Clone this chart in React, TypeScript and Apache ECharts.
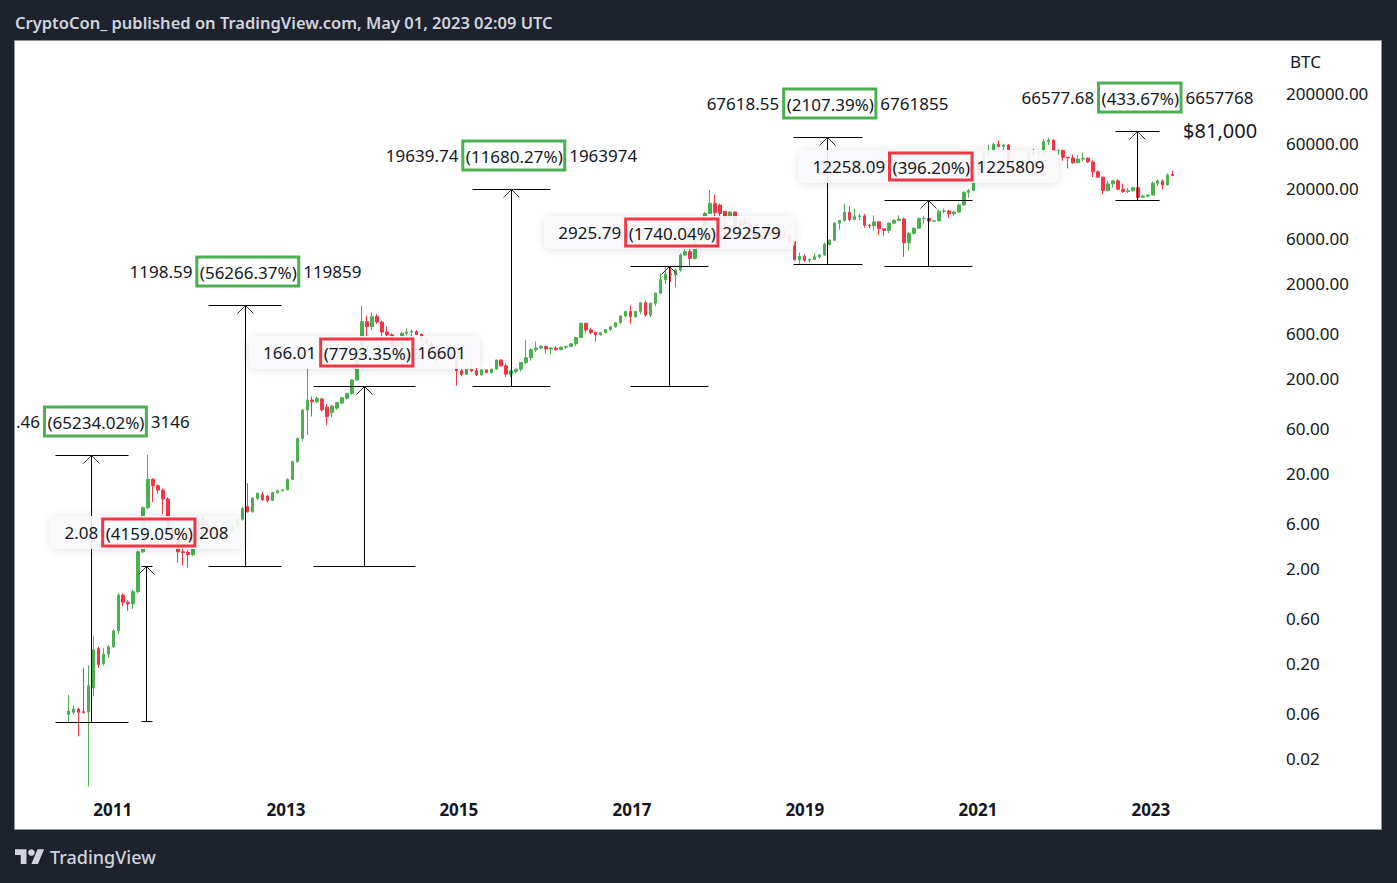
import React, { useEffect, useRef } from 'react';
import * as echarts from 'echarts';

const FONT = '"Noto Sans", "Open Sans", "DejaVu Sans", sans-serif';
const INK = '#131722';
const UP = '#4caf50';
const DOWN = '#f23645';
const FRAME = '#1e222d';

// 3-week bars, [open, close, low, high], first bar starts 2010-06-28
const firstBarDate = '2010-06-28';
const barDays = 21;

const bars2010 = [
  [0.058, 0.063, 0.049, 0.093], [0.061, 0.066, 0.058, 0.072], [0.066, 0.061, 0.034, 0.068],
  [0.062, 0.0605, 0.059, 0.18], [0.0615, 0.116, 0.0101, 0.19], [0.11, 0.277, 0.09, 0.39],
  [0.288, 0.195, 0.18, 0.3], [0.2, 0.25, 0.19, 0.29], [0.25, 0.3, 0.23, 0.31],
];
const bars2011 = [
  [0.3, 0.44, 0.29, 0.46], [0.44, 1.05, 0.41, 1.1], [1.05, 0.88, 0.8, 1.1], [0.88, 0.85, 0.72, 0.92],
  [0.85, 1.14, 0.75, 1.2], [1.14, 3.0, 1.1, 3.1], [3.0, 8.75, 2.9, 9.0], [8.75, 17.4, 8.4, 31.5],
  [17.4, 14.9, 10.0, 17.9], [14.9, 13.4, 12.3, 15.5], [13.4, 10.8, 7.5, 14.0], [10.8, 4.8, 4.5, 11.3],
  [4.8, 4.0, 3.6, 6.0], [4.0, 3.0, 2.3, 4.3], [3.0, 2.95, 2.15, 3.6], [2.95, 2.8, 2.05, 3.1],
  [2.8, 4.0, 2.7, 4.2], [4.0, 6.7, 3.9, 7.2],
];
const bars2012 = [
  [6.7, 5.7, 5.3, 7.0], [5.7, 4.9, 4.3, 6.0], [4.9, 5.3, 4.7, 5.4], [5.3, 4.9, 4.6, 5.4],
  [4.9, 5.0, 4.8, 5.2], [5.0, 5.1, 4.9, 5.2], [5.1, 5.6, 5.0, 5.7], [5.6, 6.6, 5.5, 6.8],
  [6.6, 8.6, 6.4, 8.9], [9.0, 7.9, 7.8, 15.8], [7.9, 11.0, 7.8, 11.3], [11.0, 12.4, 10.5, 12.6],
  [12.0, 10.6, 10.3, 12.8], [11.6, 10.4, 9.9, 11.9], [10.4, 12.6, 10.3, 12.9], [12.6, 13.2, 12.3, 13.6],
  [13.2, 13.5, 13.0, 13.8],
];
const bars2013 = [
  [13.5, 17.4, 13.3, 17.8], [17.4, 26.7, 17.0, 27.5], [26.7, 47.0, 26.0, 48.0], [47.0, 93.6, 44.0, 95.0],
  [93.6, 119, 51, 260], [119, 114, 80, 130], [114, 124, 110, 130], [122, 94, 90, 126],
  [100, 80, 65, 108], [88, 103, 78, 106], [98, 112, 94, 114], [111, 126, 108, 129],
  [124, 140, 121, 142], [140, 194, 135, 198], [194, 328, 190, 340], [328, 798, 320, 1175],
  [798, 706, 480, 920], [706, 900, 650, 1000],
];
const bars2014 = [
  [900, 790, 760, 960], [790, 620, 480, 820], [620, 580, 550, 710], [580, 450, 420, 600],
  [450, 440, 340, 540], [440, 602, 430, 620], [602, 620, 570, 680], [620, 627, 560, 660],
  [627, 585, 575, 650], [585, 520, 500, 600], [520, 480, 460, 530], [480, 400, 370, 490],
  [400, 380, 280, 410], [380, 340, 320, 390], [340, 370, 330, 460], [370, 320, 310, 390],
  [320, 242, 168.2, 335],
];
const bars2015 = [
  [242, 222, 212, 255], [222, 252, 218, 262], [252, 242, 236, 300], [242, 219, 214, 262],
  [219, 248, 216, 252], [248, 233, 228, 250], [233, 252, 225, 256], [252, 315, 248, 318],
  [315, 273, 268, 318], [273, 223, 207, 290], [223, 242, 208, 245], [238, 252, 228, 256],
  [252, 296, 238, 300], [296, 333, 285, 514], [333, 404, 310, 420], [404, 421, 380, 493],
  [421, 438, 410, 450],
];
const bars2016 = [
  [438, 411, 370, 445], [411, 421, 360, 430], [421, 404, 395, 440], [404, 430, 400, 435],
  [430, 438, 410, 445], [438, 467, 430, 470], [467, 543, 440, 550], [543, 767, 530, 780],
  [767, 652, 600, 770], [652, 612, 590, 690], [612, 579, 493, 630], [579, 612, 570, 620],
  [612, 660, 600, 670], [660, 706, 640, 715], [706, 778, 690, 790], [778, 917, 760, 925],
  [917, 1020, 890, 1030], [1020, 900, 767, 1180],
];
const bars2017 = [
  [900, 1025, 880, 1040], [1025, 1265, 960, 1280], [1265, 938, 900, 1330], [938, 1250, 890, 1260],
  [1250, 1590, 1160, 1620], [1590, 2200, 1550, 2560], [2200, 2540, 2000, 2980], [2540, 2480, 2100, 2950],
  [2480, 2790, 1840, 2900], [2790, 4020, 2680, 4200], [4020, 4360, 3900, 4700], [4360, 3700, 2985, 4950],
  [3700, 5700, 3600, 5850], [5700, 7100, 5500, 7600], [7100, 11000, 5500, 11400], [11000, 14100, 10900, 19450],
  [14100, 11300, 9800, 17300],
];
const bars2018 = [
  [13500, 11000, 9000, 14000], [11600, 9800, 6000, 11700], [9800, 11400, 9500, 11700], [11400, 6900, 6600, 11600],
  [6900, 8900, 6500, 9700], [8900, 8500, 8300, 9950], [8500, 7500, 7050, 8880], [7500, 6200, 6100, 7780],
  [6200, 6400, 5780, 6900], [6400, 7000, 6300, 8500], [7000, 6400, 5900, 7150], [6400, 6300, 6100, 7400],
  [6300, 6600, 6200, 6800], [6600, 6450, 6200, 7400], [6450, 5600, 5400, 6600], [5600, 3600, 3500, 5650],
  [3600, 3900, 3210, 4250], [3900, 3550, 3400, 4100],
];
const bars2019 = [
  [3550, 3620, 3350, 3700], [3620, 3850, 3550, 4200], [3850, 4030, 3700, 4100], [4030, 5200, 3950, 5450],
  [5200, 5750, 5050, 5900], [5750, 8700, 5700, 8950], [8700, 9300, 7450, 9400], [9300, 11300, 9100, 13880],
  [11300, 9500, 9100, 13200], [9500, 10200, 9400, 12300], [10200, 10400, 9400, 10950], [10400, 8300, 7800, 10900],
  [8300, 8200, 7700, 8600], [8200, 9000, 7300, 10500], [9000, 7600, 6500, 9100], [7600, 7300, 6430, 7700],
  [7300, 8700, 6850, 8900],
];
const bars2020 = [
  [8700, 9300, 8500, 9600], [9300, 9650, 9150, 10500], [9650, 5400, 3850, 9950], [5400, 6800, 4450, 7000],
  [6800, 7700, 6600, 7800], [7700, 9700, 7650, 10050], [9700, 9750, 8600, 10400], [9750, 9150, 8900, 10000],
  [9150, 9200, 8900, 9450], [9200, 11600, 9150, 12100], [11600, 11700, 11100, 12450], [11700, 10900, 9900, 12050],
  [10900, 11400, 10400, 11800], [11400, 13550, 11200, 14000], [13550, 18400, 13250, 18800], [18400, 19200, 16200, 19900],
  [19200, 34000, 19000, 34800],
];
const bars2021 = [
  [34000, 32300, 28800, 41900], [32300, 48000, 29300, 49700], [48000, 51000, 43000, 58300], [51000, 58800, 50000, 61800],
  [58800, 56200, 54700, 64900], [56200, 58000, 47000, 59500], [58000, 38400, 30000, 59500], [38400, 35600, 31000, 41300],
  [35600, 33100, 28800, 36600], [33100, 39900, 29300, 42600], [39900, 49300, 37500, 50500], [49300, 46000, 44000, 52900],
  [46000, 48200, 39600, 48500], [48200, 63000, 46900, 67000], [63000, 65500, 58000, 69000], [65500, 50500, 47000, 66300],
  [50500, 50800, 45700, 52000], [50800, 43100, 39600, 52000],
];
const bars2022 = [
  [43100, 42400, 32900, 43500], [42400, 37700, 36800, 45800], [37700, 41200, 37500, 45400], [41200, 42100, 39200, 48200],
  [42100, 38400, 37600, 42900], [38400, 30300, 26700, 40000], [30300, 26600, 26300, 31300], [26600, 19200, 17600, 26900],
  [19200, 22600, 18800, 24300], [22600, 24300, 20700, 24700], [24300, 19800, 19600, 25200], [19800, 18800, 18200, 22800],
  [18800, 19100, 18100, 20500], [19100, 20600, 18900, 21100], [20600, 16300, 15500, 21500], [16300, 16800, 16300, 17400],
  [16800, 17200, 16300, 17300],
];
const bars2023 = [
  [17200, 23000, 17200, 23900], [23000, 24300, 21400, 25200], [24300, 22000, 19600, 25200], [22000, 28000, 21800, 29200],
  [28500, 27600, 27200, 31000],
];

const yearTicks = [2011, 2013, 2015, 2017, 2019, 2021, 2023];
const priceTicks = [0.02, 0.06, 0.2, 0.6, 2, 6, 20, 60, 200, 600, 2000, 6000, 20000, 60000, 200000];

// Price-range drawings
const rangeStart = ['2010-05-02', '2011-04-30', '2012-02-08', '2013-04-27', '2015-02-24', '2016-12-24', '2018-11-13', '2019-12-03', '2022-08-03'];
const rangeEnd = ['2011-03-06', '2011-06-15', '2012-12-11', '2014-06-30', '2016-01-20', '2017-11-20', '2019-08-29', '2020-12-06', '2023-02-05'];
const rangeLow = [0.04823, 0.05001, 2.13, 2.13, 168.15, 168.15, 3208.6, 3093.9, 15352];
const rangeHigh = [31.51, 2.13, 1200.72, 168.14, 19807.9, 3093.9, 70827, 15352, 81930];
// first label is shown cut at the pane edge in the source: ".46"
const rangeChange = ['.46', '2.08', '1198.59', '166.01', '19639.74', '2925.79', '67618.55', '12258.09', '66577.68'];
const rangePct = ['65234.02', '4159.05', '56266.37', '7793.35', '11680.27', '1740.04', '2107.39', '396.20', '433.67'];
const rangeTicks = ['3146', '208', '119859', '16601', '1963974', '292579', '6761855', '1225809', '6657768'];
const rangeKind = ['up', 'down', 'up', 'down', 'up', 'down', 'up', 'down', 'up'];

const noteText = '$81,000';
const noteDate = '2023-05-17';
const notePrice = 81930;

const titleText = 'CryptoCon_ published on TradingView.com, May 01, 2023 02:09 UTC';
const footerText = 'TradingView';
const axisName = 'BTC';

const xMin = '2009-11-14';
const xMax = '2024-05-18';
const yMin = 0.009268;
const yMax = 723500;

const LOGO_PATH = 'M14 22H7V11H0V4h14v18zM28 22h-8l7.5-18h8L28 22z';

const DAY = 86400000;
const ts = (d: string) => Date.parse(d + 'T00:00:00Z');

export default function App() {
  const ref = useRef<HTMLDivElement>(null);

  useEffect(() => {
    document.body.style.margin = '0';
    document.body.style.background = FRAME;
    if (!ref.current) return;
    try {
      echarts.graphic.registerShape('tvlogo', echarts.graphic.extendPath(LOGO_PATH, {}));
    } catch (e) {
      /* already registered */
    }
    const chart = echarts.init(ref.current, null, { renderer: 'svg' });

    const measureCtx = document.createElement('canvas').getContext('2d');
    const measure = (txt: string, size: number) => {
      if (!measureCtx) return txt.length * size * 0.55;
      measureCtx.font = `${size}px "Noto Sans"`;
      return measureCtx.measureText(txt).width;
    };

    const allBars = [
      ...bars2010, ...bars2011, ...bars2012, ...bars2013, ...bars2014, ...bars2015, ...bars2016,
      ...bars2017, ...bars2018, ...bars2019, ...bars2020, ...bars2021, ...bars2022, ...bars2023,
    ];
    const t0 = ts(firstBarDate);
    const candleData = allBars.map((b, i) => [t0 + i * barDays * DAY, b[0], b[1], b[2], b[3]]);

    const rangeData = rangeStart.map((d, i) => [ts(d), ts(rangeEnd[i]), rangeLow[i], rangeHigh[i]]);

    const baseText = { fontSize: 17, fontFamily: FONT, fill: INK };

    const option: any = {
      animation: false,
      backgroundColor: FRAME,
      grid: { left: 15, right: 127, top: 41, bottom: 93, containLabel: false },
      graphic: [
        {
          type: 'rect', z: 0, silent: true,
          shape: { x: 14.5, y: 40.5, width: 1367, height: 789 },
          style: { fill: '#ffffff', stroke: '#8f939c', lineWidth: 1 },
        },
        {
          type: 'text', x: 15, y: 22, z: 1,
          style: { text: titleText, fill: '#d1d4dc', fontSize: 16.5, fontWeight: 600, fontFamily: FONT, verticalAlign: 'middle' },
        },
        {
          type: 'tvlogo', x: 15, y: 846, scaleX: 0.82, scaleY: 0.82, z: 1,
          style: { fill: '#d1d4dc' },
        },
        {
          type: 'circle', z: 1,
          shape: { cx: 15 + 20 * 0.82, cy: 846 + 8 * 0.82, r: 4 * 0.82 },
          style: { fill: '#d1d4dc' },
        },
        {
          type: 'text', x: 50, y: 857, z: 1,
          style: { text: footerText, fill: '#d1d4dc', fontSize: 18, fontWeight: 500, fontFamily: FONT, verticalAlign: 'middle' },
        },
      ],
      xAxis: {
        type: 'value',
        min: ts(xMin),
        max: ts(xMax),
        axisLine: { show: false },
        axisTick: { show: false },
        splitLine: { show: false },
        axisLabel: {
          customValues: yearTicks.map((y) => Date.UTC(y, 0, 1)),
          formatter: (v: number) => String(new Date(v).getUTCFullYear()),
          color: INK,
          fontSize: 17,
          fontWeight: 'bold',
          fontFamily: FONT,
          margin: 11,
        },
      },
      yAxis: {
        type: 'log',
        logBase: 10,
        min: yMin,
        max: yMax,
        position: 'right',
        axisLine: { show: false },
        axisTick: { show: false },
        splitLine: { show: false },
        axisLabel: {
          customValues: priceTicks,
          formatter: (v: number) => Number(v).toFixed(2),
          color: INK,
          fontSize: 17,
          fontFamily: FONT,
          margin: 16,
          align: 'left',
        },
        name: axisName,
        nameLocation: 'end',
        nameGap: -20,
        nameTextStyle: {
          color: INK, fontSize: 17, fontFamily: FONT, align: 'left', verticalAlign: 'middle', padding: [0, 0, 0, 20],
        },
      },
      series: [
        {
          type: 'candlestick',
          data: candleData,
          encode: { x: 0, y: [1, 2, 3, 4] },
          barWidth: 3,
          clip: true,
          z: 2,
          itemStyle: {
            color: UP,
            color0: DOWN,
            borderColor: UP,
            borderColor0: DOWN,
            borderWidth: 1,
          },
        },
        {
          type: 'custom',
          z: 5,
          clip: false,
          data: rangeData,
          encode: { x: [0, 1], y: [2, 3] },
          renderItem: (params: any, api: any) => {
            const i = params.dataIndex;
            const left = params.coordSys.x;
            const s = api.coord([api.value(0), api.value(2)]);
            const e = api.coord([api.value(1), api.value(3)]);
            const x1 = Math.max(left, Math.round(s[0])) + 0.5;
            const x2 = Math.round(e[0]) + 0.5;
            const yb = Math.round(s[1]) + 0.5;
            const yt = Math.round(e[1]) + 0.5;
            const xm = Math.round((s[0] + e[0]) / 2) + 0.5;
            const up = rangeKind[i] === 'up';
            const ls = { stroke: '#000000', lineWidth: 1 };
            const boxTag = up ? 'g' : 'r';
            const plain = `${rangeChange[i]} (${rangePct[i]}%) ${rangeTicks[i]}`;
            const w = measure(plain, 17) + 5 + (up ? 0 : 28);
            let lx = xm;
            let align = 'center';
            if (xm - w / 2 < left + 1) {
              lx = left + 1;
              align = 'left';
            }
            const labelStyle: any = {
              text: `{v|${rangeChange[i]}} {${boxTag}|(${rangePct[i]}%)} {v|${rangeTicks[i]}}`,
              ...baseText,
              align,
              verticalAlign: 'middle',
              rich: {
                v: { ...baseText },
                g: { ...baseText, borderColor: UP, borderWidth: 3, padding: [7, 2, 5, 3] },
                r: { ...baseText, borderColor: DOWN, borderWidth: 3, padding: [6, 2, 4, 3] },
              },
            };
            if (!up) {
              labelStyle.backgroundColor = 'rgba(249,250,252,0.9)';
              labelStyle.padding = [3, 14, 3, 14];
              labelStyle.borderRadius = 7;
              labelStyle.shadowBlur = 8;
              labelStyle.shadowColor = 'rgba(0,0,0,0.14)';
              labelStyle.shadowOffsetY = 1;
            }
            return {
              type: 'group',
              children: [
                { type: 'line', shape: { x1, y1: yt, x2, y2: yt }, style: ls },
                { type: 'line', shape: { x1, y1: yb, x2, y2: yb }, style: ls },
                { type: 'line', shape: { x1: xm, y1: yb, x2: xm, y2: yt }, style: ls },
                {
                  type: 'polyline',
                  shape: { points: [[xm - 8, yt + 8], [xm, yt], [xm + 8, yt + 8]] },
                  style: { stroke: '#3a3a3a', lineWidth: 1, fill: 'none' },
                },
                { type: 'text', x: lx, y: yt - 34, style: labelStyle },
              ],
            };
          },
        },
        {
          type: 'custom',
          z: 6,
          clip: false,
          data: [[ts(noteDate), notePrice]],
          encode: { x: 0, y: 1 },
          renderItem: (params: any, api: any) => {
            const p = api.coord([api.value(0), api.value(1)]);
            return {
              type: 'text',
              x: p[0],
              y: p[1],
              style: { text: noteText, fontSize: 20, fontFamily: FONT, fill: INK, align: 'left', verticalAlign: 'middle' },
            };
          },
        },
      ],
    };

    chart.setOption(option);
    return () => chart.dispose();
  }, []);

  return <div ref={ref} style={{ width: 1397, height: 883 }} />;
}
